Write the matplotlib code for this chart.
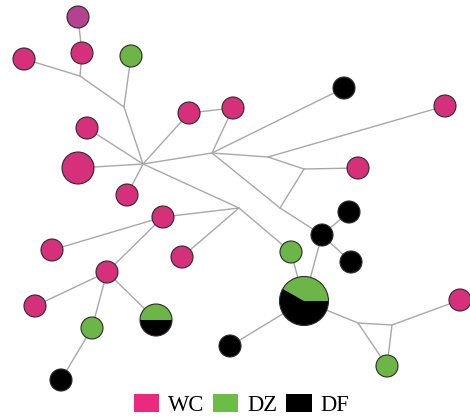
import matplotlib
matplotlib.use("Agg")
import matplotlib.pyplot as plt
from matplotlib.patches import Circle, Wedge, Patch

# ---- data ----
# haplotype nodes: name, x, y (layout positions), radius class, composition
node_names = ["H1", "H2", "H3", "H4", "H5", "H6", "H7", "H8", "H9", "H10",
              "H11", "H12", "H13", "H14", "H15", "H16", "H17", "H18", "H19", "H20",
              "H21", "H22", "H23", "H24", "H25", "H26", "H27", "H28"]
node_x = [78, 82, 24, 131, 189, 233, 87, 78, 127, 344,
          445, 358, 349, 322, 351, 291, 304, 230, 387, 460,
          163, 52, 182, 107, 35, 92, 156, 61]
node_y = [17, 53, 59, 56, 113, 108, 128, 168, 195, 88,
          106, 168, 212, 235, 262, 252, 301, 346, 366, 300,
          217, 250, 257, 272, 306, 328, 320, 380]
node_size = [11, 11, 11, 11, 11, 11, 11, 16, 11, 11,
             11, 11, 11, 11, 11, 11, 24.5, 11, 11, 11,
             11, 11, 11, 11, 11, 11, 16, 11]
# counts per population: WC, DZ, DF (H1 uses a mixed colour)
wc_counts = [1, 1, 1, 0, 1, 1, 1, 1, 1, 0,
             1, 1, 0, 0, 0, 0, 0, 0, 0, 1,
             1, 1, 1, 1, 1, 0, 0, 0]
dz_counts = [0, 0, 0, 1, 0, 0, 0, 0, 0, 0,
             0, 0, 0, 0, 0, 1, 5, 0, 1, 0,
             0, 0, 0, 0, 0, 1, 1, 0]
df_counts = [0, 0, 0, 0, 0, 0, 0, 0, 0, 1,
             0, 0, 1, 1, 1, 0, 7, 1, 0, 0,
             0, 0, 0, 0, 0, 0, 1, 1]

# median vectors (unsampled nodes)
median_names = ["m1", "m2", "m3", "m4", "m5", "m6", "m7", "m8", "m9", "m10"]
median_x = [80, 124, 143, 212, 268, 304, 280, 239, 358, 392]
median_y = [76, 107, 164, 153, 157, 169, 208, 208, 323, 325]

edges = [("H1", "H2"), ("H2", "m1"), ("H3", "m1"), ("m1", "m2"), ("H4", "m2"),
         ("m2", "m3"), ("m3", "H7"), ("m3", "H8"), ("m3", "H9"), ("m3", "H5"),
         ("m3", "m4"), ("m3", "m8"), ("H5", "H6"), ("H6", "m4"), ("m4", "H10"),
         ("m4", "m5"), ("m4", "m7"), ("m5", "H11"), ("m5", "m6"), ("m6", "H12"),
         ("m6", "m7"), ("m7", "H14"), ("H14", "H13"), ("H14", "H15"), ("H14", "H17"),
         ("H16", "H17"), ("m8", "H16"), ("m8", "H21"), ("m8", "H23"), ("H21", "H22"),
         ("H21", "H24"), ("H24", "H25"), ("H24", "H26"), ("H24", "H27"), ("H26", "H28"),
         ("H17", "H18"), ("H17", "m9"), ("m9", "m10"), ("m9", "H19"), ("m10", "H19"),
         ("m10", "H20")]

groups = ["WC", "DZ", "DF"]

# ---- style ----
node_colors = {"WC": "#d6307a", "DZ": "#6bb646", "DF": "#000000"}
legend_colors = {"WC": "#ea2a7e", "DZ": "#6bbd45", "DF": "#000000"}
mixed_color = "#b5428f"

fig = plt.figure(figsize=(4.70, 4.17), dpi=100)
ax = fig.add_axes([0, 0, 1, 1])
ax.set_xlim(0, 470)
ax.set_ylim(417, 0)
ax.set_aspect("equal")
ax.axis("off")

pos = {n: (x, y) for n, x, y in zip(node_names, node_x, node_y)}
pos.update({n: (x, y) for n, x, y in zip(median_names, median_x, median_y)})

for a, b in edges:
    (x1, y1), (x2, y2) = pos[a], pos[b]
    ax.plot([x1, x2], [y1, y2], color="#a8a8a8", lw=1.0, zorder=1,
            solid_capstyle="round")

for i, n in enumerate(node_names):
    x, y, r = node_x[i], node_y[i], node_size[i]
    counts = [wc_counts[i], dz_counts[i], df_counts[i]]
    total = sum(counts)
    if i == 0:
        ax.add_patch(Circle((x, y), r, facecolor=mixed_color, edgecolor="#2b2b2b",
                            lw=0.8, zorder=3))
        continue
    nz = [g for g, c in zip(groups, counts) if c > 0]
    if len(nz) == 1:
        ax.add_patch(Circle((x, y), r, facecolor=node_colors[nz[0]],
                            edgecolor="#2b2b2b", lw=0.8, zorder=3))
    else:
        start = 0.0
        for g, c in zip(groups, counts):
            if c == 0:
                continue
            span = 360.0 * c / total
            ax.add_patch(Wedge((x, y), r, -(start + span), -start,
                               facecolor=node_colors[g], edgecolor="none", zorder=3))
            start += span
        ax.add_patch(Circle((x, y), r, facecolor="none", edgecolor="#2b2b2b",
                            lw=0.8, zorder=4))

handles = [Patch(facecolor=legend_colors[g], edgecolor="none", label=g) for g in groups]
leg = ax.legend(handles=handles, ncol=3, loc="lower center",
                bbox_to_anchor=(0.514, 0.003), frameon=False,
                prop={"family": "Liberation Serif", "size": 16.3},
                handlelength=1.12, handleheight=0.8, handletextpad=0.4,
                columnspacing=0.38, borderpad=0.0, borderaxespad=0.0)

fig.savefig("out.png", dpi=100)
